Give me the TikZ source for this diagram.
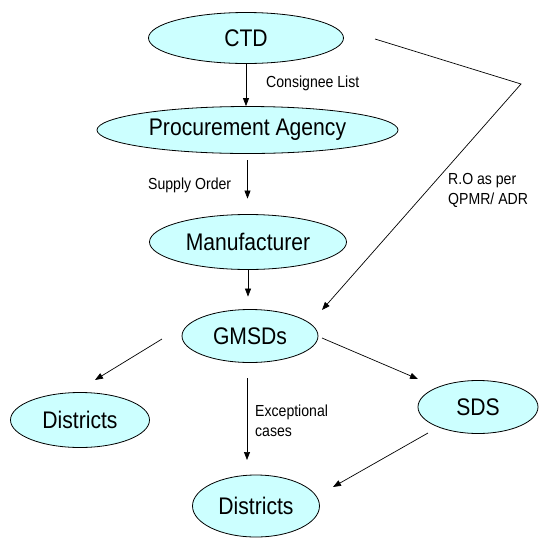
\documentclass[tikz,border=0pt]{standalone}
\usepackage{fontspec}
\setmainfont[FakeStretch=0.88]{Liberation Sans}
\usetikzlibrary{shapes.geometric,arrows.meta}
\definecolor{cyanfill}{RGB}{204,255,255}
\begin{document}
\begin{tikzpicture}[x=1pt,y=-1pt,
  oval/.style={ellipse,draw=black,line width=0.8pt,fill=cyanfill,inner sep=0pt,font=\fontsize{24}{28}\selectfont},
  arr/.style={-{Triangle[length=8pt,width=6pt]},line width=0.7pt},
  lbl/.style={font=\fontsize{16}{20}\selectfont,inner sep=0pt,anchor=west,align=left}]
\useasboundingbox (0,0) rectangle (539,542);
\node[oval,minimum width=195pt,minimum height=51pt] (ctd) at (246,38) {CTD};
\node[oval,minimum width=301pt,minimum height=47pt] (pa) at (247.5,130) {Procurement Agency};
\node[oval,minimum width=197pt,minimum height=55pt] (man) at (248,242) {Manufacturer};
\node[oval,minimum width=136pt,minimum height=53pt] (gms) at (250,336) {GMSDs};
\node[oval,minimum width=139pt,minimum height=55pt] (dl) at (80,420) {Districts};
\node[oval,minimum width=120pt,minimum height=53pt] (sds) at (478,407) {SDS};
\node[oval,minimum width=127pt,minimum height=62pt] (db) at (256,506) {Districts};

\coordinate (roA) at (375,39);
\coordinate (roB) at (521,84);
\coordinate (roC) at (322,310);
\coordinate (glA) at (162,339);
\coordinate (glB) at (95,380);
\coordinate (gsA) at (322,338);
\coordinate (gsB) at (418,379);
\coordinate (gdA) at (247,378);
\coordinate (gdB) at (247,460);
\coordinate (sdA) at (428,433);
\coordinate (sdB) at (333,487);

\draw[arr] (ctd.south) -- (ctd.south |- pa.north);
\draw[arr,shorten <=6.5pt,shorten >=15.5pt] (pa.south) -- (pa.south |- man.north);
\draw[arr,shorten >=12.5pt] (man.south) -- (man.south |- gms.north);
\draw[arr] (roA) -- (roB) -- (roC);
\draw[arr] (glA) -- (glB);
\draw[arr] (gsA) -- (gsB);
\draw[arr] (gdA) -- (gdB);
\draw[arr] (sdA) -- (sdB);

\node[lbl] (l1) at (266,83) {Consignee List};
\node[lbl] (l2) at (148,185) {Supply Order};
\node[lbl] (l3) at (448,190) {R.O as per\\QPMR/ ADR};
\node[lbl] (l4) at (255,421) {Exceptional\\cases};
\end{tikzpicture}
\end{document}
